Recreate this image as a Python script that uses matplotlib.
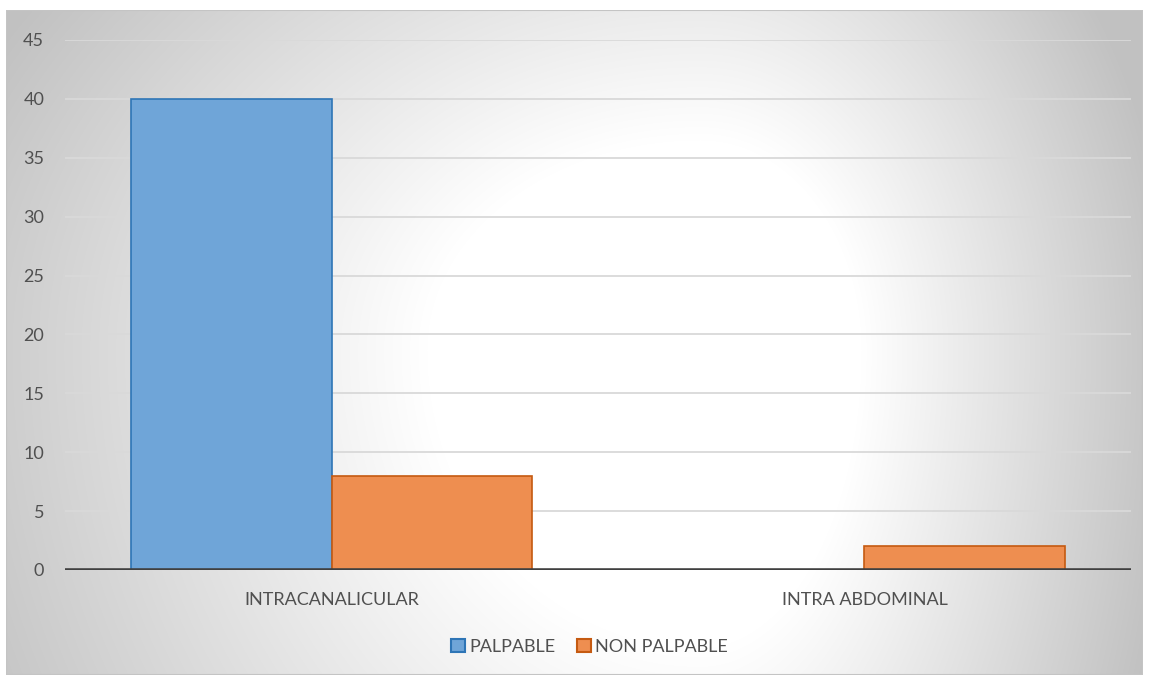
import matplotlib.pyplot as plt
import numpy as np
from matplotlib.patches import Rectangle

categories = ['INTRACANALICULAR', 'INTRA ABDOMINAL']
series_names = ['PALPABLE', 'NON PALPABLE']
palpable = [40, 0]
non_palpable = [8, 2]
yticks = [0, 5, 10, 15, 20, 25, 30, 35, 40, 45]

W, H = 1150, 679
fig = plt.figure(figsize=(W / 100, H / 100), dpi=100, facecolor='white')
plt.rcParams['font.family'] = ['Lato', 'DejaVu Sans']

# chart area with a radial grey-to-white fill (pixel grid, origin top-left)
cx0, cy0, cx1, cy1 = 6, 10, 1143, 675
bg = fig.add_axes([cx0 / W, 1 - cy1 / H, (cx1 - cx0) / W, (cy1 - cy0) / H])
gx, gy = np.meshgrid(np.arange(cx0, cx1), np.arange(cy0, cy1))
ccx, ccy = 700, 350
dx = (gx - ccx) / np.where(gx > ccx, 460.0, 780.0)
dy = (gy - ccy) / np.where(gy > ccy, 850.0, 600.0)
d = np.sqrt(dx ** 2 + dy ** 2)
shade = np.clip(1 - 0.23 * np.clip(d - 0.35, 0, None) / 0.65, 0.76, 1)
bg.imshow(np.dstack([shade] * 3), extent=[0, 1, 0, 1], origin='upper', aspect='auto')
bg.add_patch(Rectangle((0, 0), 1, 1, transform=bg.transAxes, fill=False,
                       edgecolor='#c4c4c4', linewidth=1.5))
bg.set_axis_off()

# plot area
px0, py0, px1, py1 = 65, 40, 1131, 570
ax = fig.add_axes([px0 / W, 1 - py1 / H, (px1 - px0) / W, (py1 - py0) / H])
ax.set_facecolor('none')

x = np.arange(len(categories))
bw = 0.377
ax.bar(x - bw / 2, palpable, bw, color='#6fa5d8', edgecolor='#2e75b6',
       linewidth=1.2, label=series_names[0], zorder=3)
ax.bar(x + bw / 2, non_palpable, bw, color='#ee8e50', edgecolor='#c55a11',
       linewidth=1.2, label=series_names[1], zorder=3)

ax.set_xlim(-0.5, 1.5)
ax.set_ylim(0, 45)
ax.set_yticks(yticks)
ax.set_xticks(x)
ax.set_xticklabels(categories)
ax.tick_params(axis='both', length=0, labelsize=13, colors='#505050')
ax.tick_params(axis='y', pad=15)
ax.tick_params(axis='x', pad=16)
ax.grid(axis='y', color='#d9d9d9', linewidth=1.3, zorder=0)
for s in ['top', 'right', 'left', 'bottom']:
    ax.spines[s].set_visible(False)
ax.axhline(0, color='#404040', linewidth=3.3, zorder=4)

leg = ax.legend(loc='center', bbox_to_anchor=(0.492, -0.145), ncol=2, frameon=False,
                fontsize=13, handlelength=0.75, handleheight=0.75, handletextpad=0.25,
                columnspacing=1.2, labelcolor='#505050')
for h in leg.legend_handles:
    h.set_linewidth(1.5)

fig.savefig('out.png', dpi=100, facecolor='white')
